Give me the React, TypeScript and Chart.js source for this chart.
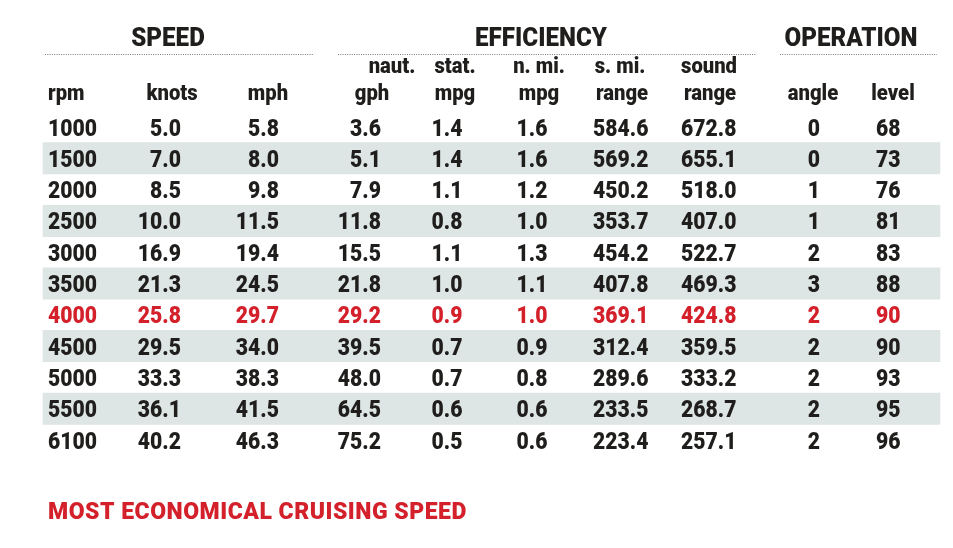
import React, { useEffect, useRef } from "react";
import { Chart, registerables } from "chart.js";

Chart.register(...registerables);

// ---- data ----
const rpm = ["1000", "1500", "2000", "2500", "3000", "3500", "4000", "4500", "5000", "5500", "6100"];
const knots = [5.0, 7.0, 8.5, 10.0, 16.9, 21.3, 25.8, 29.5, 33.3, 36.1, 40.2];
const mph = [5.8, 8.0, 9.8, 11.5, 19.4, 24.5, 29.7, 34.0, 38.3, 41.5, 46.3];
const gph = [3.6, 5.1, 7.9, 11.8, 15.5, 21.8, 29.2, 39.5, 48.0, 64.5, 75.2];
const statMpg = [1.4, 1.4, 1.1, 0.8, 1.1, 1.0, 0.9, 0.7, 0.7, 0.6, 0.5];
const nmiMpg = [1.6, 1.6, 1.2, 1.0, 1.3, 1.1, 1.0, 0.9, 0.8, 0.6, 0.6];
const smiRange = [584.6, 569.2, 450.2, 353.7, 454.2, 407.8, 369.1, 312.4, 289.6, 233.5, 223.4];
const soundRange = [672.8, 655.1, 518.0, 407.0, 522.7, 469.3, 424.8, 359.5, 333.2, 268.7, 257.1];
const angle = [0, 0, 1, 1, 2, 3, 2, 2, 2, 2, 2];
const level = [68, 73, 76, 81, 83, 88, 90, 90, 93, 95, 96];
const highlightRpm = "4000";

const groupTitles = ["SPEED", "EFFICIENCY", "OPERATION"];
const headerTop = ["", "", "", "naut.", "stat.", "n. mi.", "s. mi.", "sound", "", ""];
const headerBottom = ["rpm", "knots", "mph", "gph", "mpg", "mpg", "range", "range", "angle", "level"];
const footnote = "MOST ECONOMICAL CRUISING SPEED";

// ---- layout / style ----
const W = 953;
const H = 548;
const DARK = "#1f1e1c";
const RED = "#d3202a";
const STRIPE = "#dde6e4";
const FONT = "Roboto, 'Liberation Sans', Arial, sans-serif";
const SX = 0.92;
const STRIPE_X = [43, 940];
// column anchors: [x, align]
const colAnchors: [number, CanvasTextAlign][] = [
  [48, "left"], [181, "right"], [279, "right"], [381, "right"], [462.5, "right"],
  [547.5, "right"], [648.5, "right"], [736.5, "right"], [814, "center"], [900.5, "right"],
];
const headerTopX = [0, 0, 0, 392, 455, 539, 620, 709, 0, 0];
const headerBottomX = [48, 172, 268, 372, 455, 539, 622, 710, 813, 893];
const groupCenters = [168, 541, 851];
const groupLines: [number, number][] = [[45, 313], [338, 756], [780, 937]];

const fmt = (v: number) => v.toFixed(1);
const columns: string[][] = [
  rpm,
  knots.map(fmt),
  mph.map(fmt),
  gph.map(fmt),
  statMpg.map(fmt),
  nmiMpg.map(fmt),
  smiRange.map(fmt),
  soundRange.map(fmt),
  angle.map(String),
  level.map(String),
];

function drawText(
  ctx: CanvasRenderingContext2D, text: string, x: number, y: number, align: CanvasTextAlign,
  font: string, color: string, sx = SX, spacing = 0
) {
  ctx.save();
  ctx.translate(x, y);
  ctx.scale(sx, 1);
  ctx.font = font;
  (ctx as any).letterSpacing = `${spacing}px`;
  ctx.fillStyle = color;
  ctx.textAlign = align;
  ctx.textBaseline = "alphabetic";
  ctx.fillText(text, 0, 0);
  ctx.restore();
}

const tablePlugin = {
  id: "tableText",
  afterDatasetsDraw(chart: any) {
    const ctx: CanvasRenderingContext2D = chart.ctx;
    const xs = chart.scales.x;
    const ys = chart.scales.y;
    const y0 = ys.getPixelForValue(0);
    const cellFont = `900 23px ${FONT}`;
    const headFont = `900 22px ${FONT}`;
    const groupFont = `900 26px ${FONT}`;

    // group titles + dotted rules
    groupTitles.forEach((t, i) => {
      drawText(ctx, t, xs.getPixelForValue(groupCenters[i]), y0 - 81, "center", groupFont, DARK, 0.93);
      const [a, b] = groupLines[i];
      ctx.save();
      ctx.strokeStyle = "#7a7a7a";
      ctx.lineWidth = 1;
      ctx.setLineDash([1, 1.3]);
      ctx.beginPath();
      ctx.moveTo(xs.getPixelForValue(a), Math.round(y0 - 73) + 0.5);
      ctx.lineTo(xs.getPixelForValue(b), Math.round(y0 - 73) + 0.5);
      ctx.stroke();
      ctx.restore();
    });

    // column headers
    headerTop.forEach((t, i) => {
      if (t) drawText(ctx, t, xs.getPixelForValue(headerTopX[i]), y0 - 54, "center", headFont, DARK);
    });
    headerBottom.forEach((t, i) => {
      drawText(ctx, t, xs.getPixelForValue(headerBottomX[i]), y0 - 27, i === 0 ? "left" : "center", headFont, DARK);
    });

    // cells
    rpm.forEach((r, row) => {
      const yb = ys.getPixelForValue(row) + 8.5;
      const color = r === highlightRpm ? RED : DARK;
      columns.forEach((col, c) => {
        const [ax, al] = colAnchors[c];
        drawText(ctx, col[row], xs.getPixelForValue(ax), yb, al, cellFont, color);
      });
    });

    // footnote
    const yl = ys.getPixelForValue(rpm.length - 1);
    drawText(ctx, footnote, xs.getPixelForValue(48), yl + 79, "left", `900 23px ${FONT}`, RED, 1, 0.5);
  },
};

export default function App() {
  const ref = useRef<HTMLCanvasElement | null>(null);
  useEffect(() => {
    if (!ref.current) return;
    const pitch = 31.3;
    const top = 127 - pitch / 2;
    const bottom = H - (top + pitch * rpm.length);
    const chart = new Chart(ref.current, {
      type: "bar",
      data: {
        labels: rpm,
        datasets: [
          {
            data: rpm.map((_, i) => (i % 2 === 1 ? [STRIPE_X[0], STRIPE_X[1]] : null)) as any,
            backgroundColor: STRIPE,
            borderWidth: 0,
            barPercentage: 1,
            categoryPercentage: 1,
          },
        ],
      },
      options: {
        indexAxis: "y",
        animation: false,
        responsive: false,
        layout: { padding: { top, bottom, left: 0, right: 0 } },
        plugins: { legend: { display: false }, tooltip: { enabled: false } },
        scales: {
          x: { type: "linear", min: 0, max: W, display: false },
          y: { type: "category", display: false, offset: true },
        },
      },
      plugins: [tablePlugin],
    });
    return () => chart.destroy();
  }, []);
  return (
    <div style={{ position: "absolute", left: 0, top: 0, width: W, height: H, background: "#fff" }}>
      <canvas ref={ref} width={W} height={H} style={{ display: "block", width: W, height: H }} />
    </div>
  );
}
